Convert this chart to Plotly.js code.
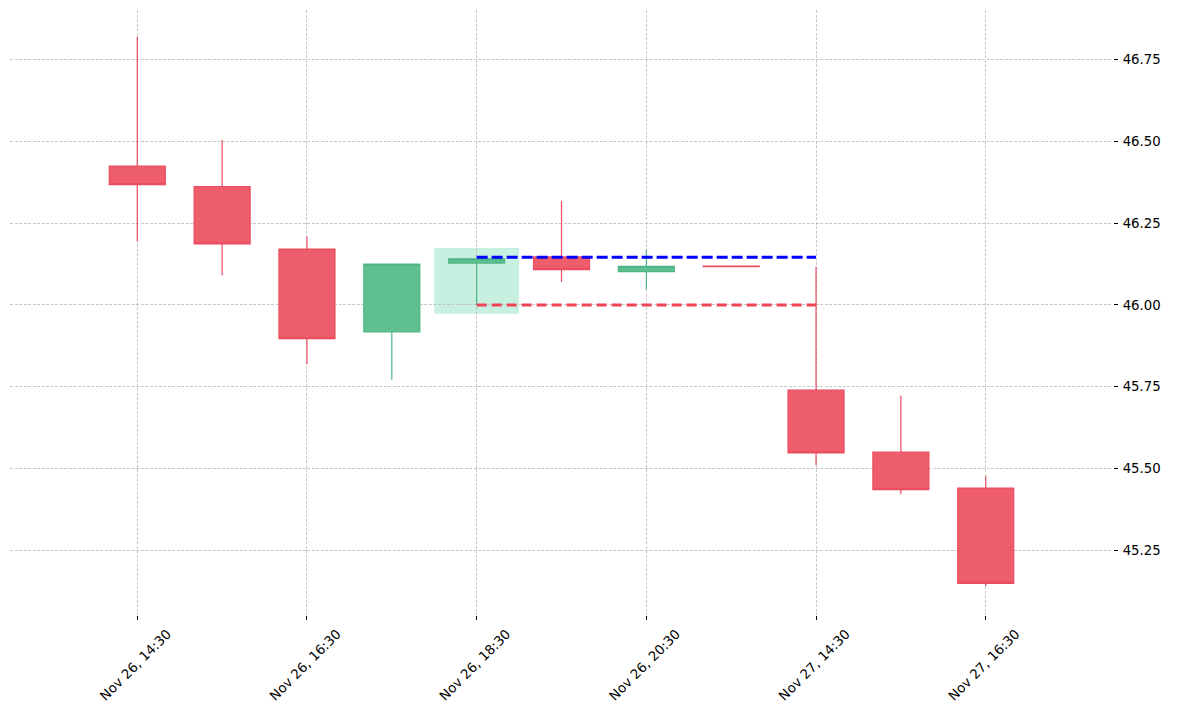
<!DOCTYPE html>
<html>
<head>
<meta charset="utf-8">
<script src="https://cdn.plot.ly/plotly-3.0.1.min.js"></script>
<style>
  html, body { margin: 0; padding: 0; background: #fff; }
  #chart { width: 1179px; height: 712px; }
</style>
</head>
<body>
<div id="chart"></div>
<script>
// candle times (one per hour, category axis)
const labels = [
  'Nov 26, 14:30', 'Nov 26, 15:30', 'Nov 26, 16:30', 'Nov 26, 17:30',
  'Nov 26, 18:30', 'Nov 26, 19:30', 'Nov 26, 20:30', 'Nov 26, 21:30',
  'Nov 27, 14:30', 'Nov 27, 15:30', 'Nov 27, 16:30'
];
const opens  = [46.425, 46.362, 46.171, 45.918, 46.128, 46.147, 46.102, 46.119, 45.740, 45.550, 45.440];
const highs  = [46.820, 46.505, 46.209, 46.125, 46.141, 46.319, 46.170, 46.119, 46.117, 45.723, 45.477];
const lows   = [46.195, 46.091, 45.819, 45.771, 46.000, 46.070, 46.048, 46.117, 45.510, 45.421, 45.141];
const closes = [46.368, 46.187, 45.897, 46.125, 46.141, 46.108, 46.118, 46.117, 45.548, 45.435, 45.149];

// highlighted candle and the two levels taken from it
const zoneIndex = 4;
const zoneTop = 46.174;
const zoneBottom = 45.973;
const levelStart = 4;
const levelEnd = 8;
const upperLevel = 46.146;
const lowerLevel = 46.000;

const idx = labels.map((_, i) => i);
const tickIdx = idx.filter((i) => i % 2 === 0);

const red = '#ee5d6c';
const green = '#5fbf8f';

const candles = {
  type: 'candlestick',
  x: idx,
  open: opens,
  high: highs,
  low: lows,
  close: closes,
  increasing: { line: { color: '#4fb585', width: 1.2 }, fillcolor: green },
  decreasing: { line: { color: '#ea4c5e', width: 1.2 }, fillcolor: red },
  whiskerwidth: 0,
  hoverinfo: 'none',
  showlegend: false
};

const upper = {
  type: 'scatter',
  mode: 'lines',
  x: [levelStart, levelEnd],
  y: [upperLevel, upperLevel],
  line: { color: '#0000ff', width: 3, dash: '11px,4px' },
  hoverinfo: 'none',
  showlegend: false
};

const lower = {
  type: 'scatter',
  mode: 'lines',
  x: [levelStart, levelEnd],
  y: [lowerLevel, lowerLevel],
  line: { color: '#f04456', width: 3, dash: '10px,5px' },
  hoverinfo: 'none',
  showlegend: false
};

const tickFont = { family: 'DejaVu Sans', size: 13.3, color: '#000' };

const layout = {
  width: 1179,
  height: 712,
  margin: { l: 10, r: 66, t: 10, b: 97 },
  paper_bgcolor: '#fff',
  plot_bgcolor: '#fff',
  showlegend: false,
  boxgap: 0.34,
  boxgroupgap: 0,
  xaxis: {
    type: 'linear',
    range: [-1.5, 11.5],
    tickmode: 'array',
    tickvals: tickIdx,
    ticktext: tickIdx.map((i) => labels[i]),
    tickangle: -45,
    tickfont: tickFont,
    ticklabelshift: 30,
    ticklabelstandoff: 1,
    ticks: 'outside',
    ticklen: 4,
    tickcolor: '#000',
    showgrid: true,
    gridcolor: '#bdbdbd',
    gridwidth: 0.8,
    griddash: '3px,1.5px',
    zeroline: false,
    showline: false,
    rangeslider: { visible: false },
    fixedrange: true
  },
  yaxis: {
    side: 'right',
    range: [45.052, 46.902],
    tickmode: 'linear',
    tick0: 45.25,
    dtick: 0.25,
    tickformat: '.2f',
    tickfont: tickFont,
    ticks: 'outside',
    ticklen: 4,
    tickcolor: '#000',
    ticklabelstandoff: 2,
    showgrid: true,
    gridcolor: '#bdbdbd',
    gridwidth: 0.8,
    griddash: '3px,1.5px',
    zeroline: false,
    showline: false,
    fixedrange: true
  },
  shapes: [{
    type: 'rect',
    layer: 'below',
    xref: 'x',
    yref: 'y',
    x0: zoneIndex - 0.5,
    x1: zoneIndex + 0.5,
    y0: zoneBottom,
    y1: zoneTop,
    fillcolor: '#c8f0e0',
    line: { width: 0 }
  }]
};

Plotly.newPlot('chart', [candles, lower, upper], layout, { staticPlot: true });
</script>
</body>
</html>
